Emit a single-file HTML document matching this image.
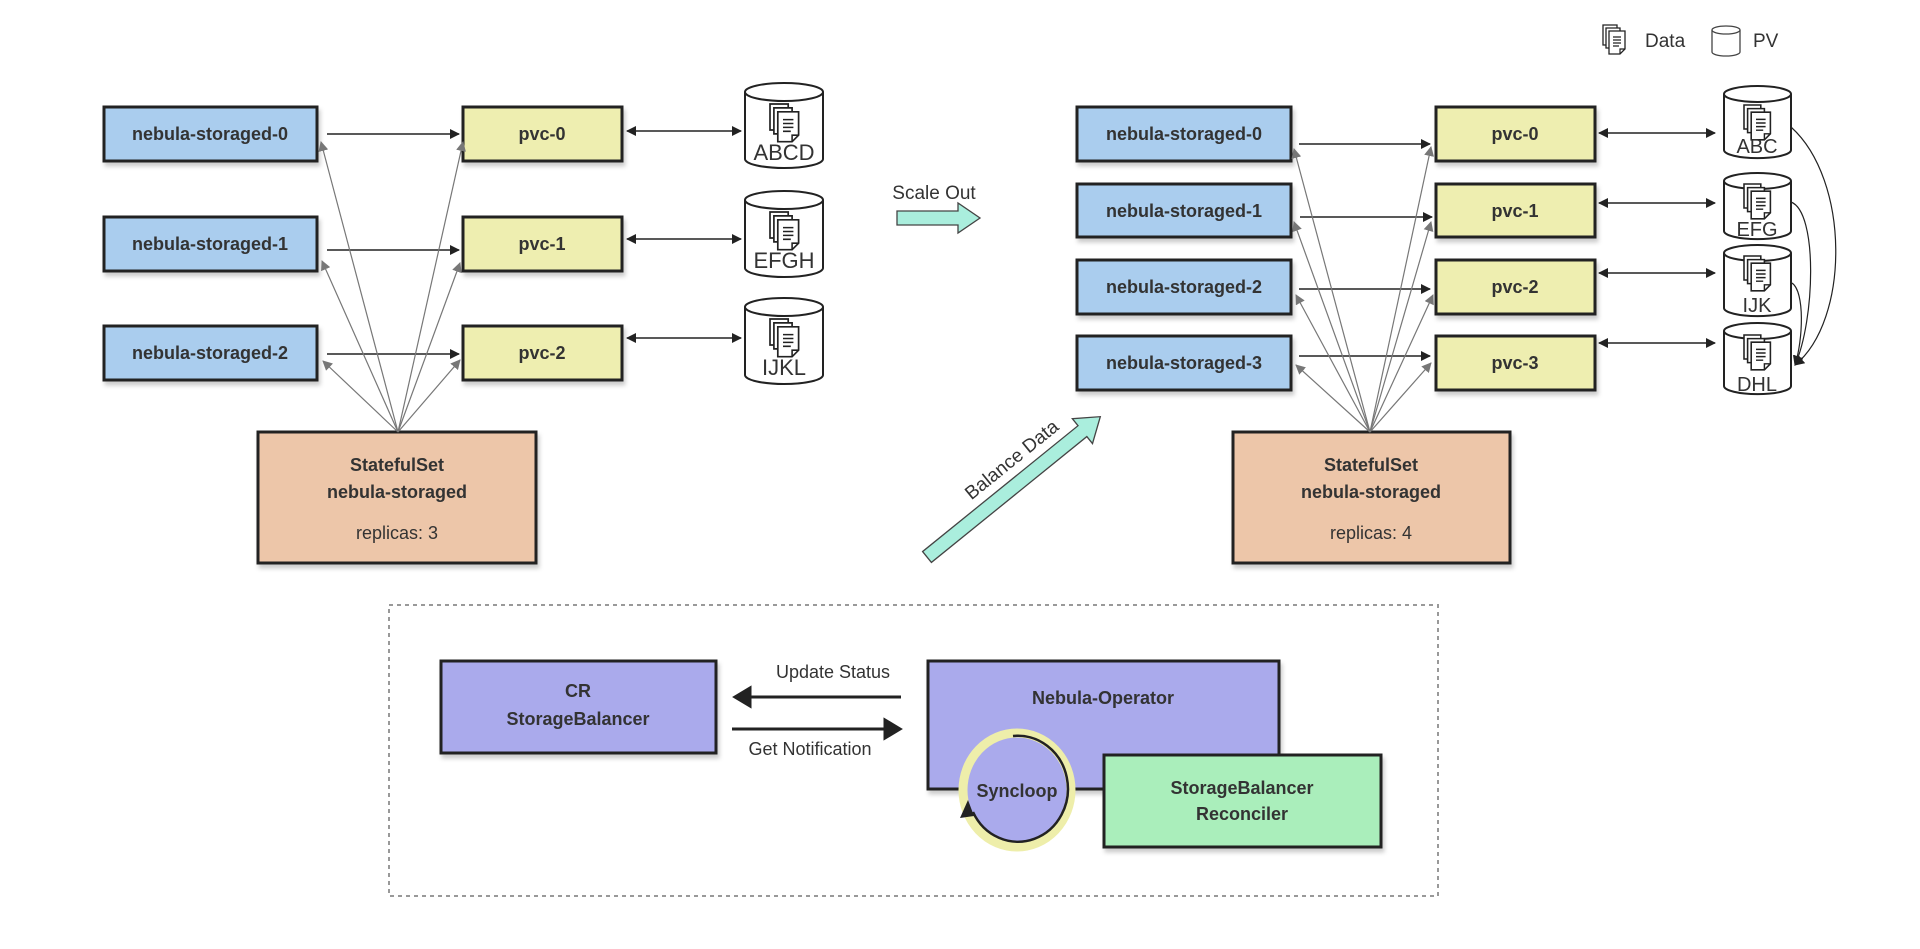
<!DOCTYPE html>
<html><head><meta charset="utf-8"><style>
html,body{margin:0;padding:0;background:#fff;}
svg{display:block;font-family:"Liberation Sans",Arial,sans-serif;}
.b{font-weight:bold;font-size:18px;fill:#333;}
.n{font-size:18px;fill:#333;}
</style></head><body>
<svg width="1920" height="949" viewBox="0 0 1920 949" xmlns="http://www.w3.org/2000/svg">
<defs>
<marker id="ah" markerWidth="10" markerHeight="10" refX="9" refY="5" orient="auto" markerUnits="userSpaceOnUse"><path d="M0,0 L10,5 L0,10 z" fill="#222"/></marker>
<marker id="as" markerWidth="10" markerHeight="10" refX="1" refY="5" orient="auto" markerUnits="userSpaceOnUse"><path d="M10,0 L0,5 L10,10 z" fill="#222"/></marker>
<marker id="ag" markerWidth="10" markerHeight="10" refX="9" refY="5" orient="auto" markerUnits="userSpaceOnUse"><path d="M0,0 L10,5 L0,10 z" fill="#777"/></marker>
<filter id="sh" x="-5%" y="-5%" width="115%" height="125%"><feDropShadow dx="2" dy="4" stdDeviation="2" flood-color="#000" flood-opacity="0.2"/></filter>
<g id="doc">
<path d="M0,0 h14 v20 h-14 z" fill="#fff" stroke="#222" stroke-width="1.3"/>
<path d="M3,3 h14 v20 h-14 z" fill="#fff" stroke="#222" stroke-width="1.3"/>
<path d="M6,6 h16 v18 l-5,5 h-11 z" fill="#fff" stroke="#222" stroke-width="1.3"/>
<path d="M17,29 v-5 h5" fill="none" stroke="#222" stroke-width="1.2"/>
<path d="M10,12 h8 M10,15 h8 M10,18 h8 M10,21 h6" stroke="#222" stroke-width="1.2"/>
</g>
</defs>

<!-- legend -->
<use href="#doc" x="1603" y="25"/>
<text x="1645" y="47" class="n" style="font-size:19px">Data</text>
<path d="M1712,30 v22 a14,4 0 0 0 28,0 v-22" fill="#fff" stroke="#444" stroke-width="1.3"/>
<ellipse cx="1726" cy="30" rx="14" ry="4" fill="#fff" stroke="#444" stroke-width="1.3"/>
<text x="1753" y="47" class="n" style="font-size:19px">PV</text>

<!-- LEFT -->
<g filter="url(#sh)" stroke="#222" stroke-width="3">
<rect x="104" y="107" width="213" height="54" fill="#aacdee"/>
<rect x="104" y="217" width="213" height="54" fill="#aacdee"/>
<rect x="104" y="326" width="213" height="54" fill="#aacdee"/>
<rect x="463" y="107" width="159" height="54" fill="#eeeeb0"/>
<rect x="463" y="217" width="159" height="54" fill="#eeeeb0"/>
<rect x="463" y="326" width="159" height="54" fill="#eeeeb0"/>
<rect x="258" y="432" width="278" height="131" fill="#edc6a9"/>
</g>
<g text-anchor="middle" class="b">
<text x="210" y="140">nebula-storaged-0</text>
<text x="210" y="250">nebula-storaged-1</text>
<text x="210" y="359">nebula-storaged-2</text>
<text x="542" y="140">pvc-0</text>
<text x="542" y="250">pvc-1</text>
<text x="542" y="359">pvc-2</text>
<text x="397" y="471">StatefulSet</text>
<text x="397" y="498">nebula-storaged</text>
<text x="397" y="539" class="n" style="font-weight:normal">replicas: 3</text>
</g>
<g stroke="#222" stroke-width="1.5">
<line x1="327" y1="134" x2="459" y2="134" marker-end="url(#ah)"/>
<line x1="327" y1="250" x2="459" y2="250" marker-end="url(#ah)"/>
<line x1="327" y1="354" x2="459" y2="354" marker-end="url(#ah)"/>
<line x1="627" y1="131" x2="741" y2="131" marker-end="url(#ah)" marker-start="url(#as)"/>
<line x1="627" y1="239" x2="741" y2="239" marker-end="url(#ah)" marker-start="url(#as)"/>
<line x1="627" y1="338" x2="741" y2="338" marker-end="url(#ah)" marker-start="url(#as)"/>
</g>
<g stroke="#777" stroke-width="1.2" fill="none">
<line x1="398" y1="432" x2="321" y2="142" marker-end="url(#ag)"/>
<line x1="398" y1="432" x2="322" y2="261" marker-end="url(#ag)"/>
<line x1="398" y1="432" x2="323" y2="361" marker-end="url(#ag)"/>
<line x1="398" y1="432" x2="463" y2="142" marker-end="url(#ag)"/>
<line x1="398" y1="432" x2="460" y2="263" marker-end="url(#ag)"/>
<line x1="398" y1="432" x2="460" y2="360" marker-end="url(#ag)"/>
</g>
<!-- left cylinders -->
<g stroke="#222" stroke-width="2" fill="#fff">
<path d="M745,92 v67 a39,9 0 0 0 78,0 v-67"/><ellipse cx="784" cy="92" rx="39" ry="9"/>
<path d="M745,200 v68 a39,9 0 0 0 78,0 v-68"/><ellipse cx="784" cy="200" rx="39" ry="9"/>
<path d="M745,307 v68 a39,9 0 0 0 78,0 v-68"/><ellipse cx="784" cy="307" rx="39" ry="9"/>
</g>
<use href="#doc" transform="translate(770,104) scale(1.3)"/><use href="#doc" transform="translate(770,212) scale(1.3)"/><use href="#doc" transform="translate(770,319) scale(1.3)"/>
<g text-anchor="middle" class="n" style="font-size:22px">
<text x="784" y="160">ABCD</text><text x="784" y="268">EFGH</text><text x="784" y="375">IJKL</text>
</g>

<!-- middle -->
<text x="934" y="199" text-anchor="middle" class="n" style="font-size:19px">Scale Out</text>
<path d="M897,211 h61 v-8 l22,15 l-22,15 v-8 h-61 z" fill="#aaeedd" stroke="#444" stroke-width="1.3"/>
<g transform="translate(927,557) rotate(-39)">
<path d="M0,-7 h200 v-9 l23,16 l-23,16 v-9 h-200 z" fill="#aaeedd" stroke="#444" stroke-width="1.3"/>
<text x="70" y="-16" class="n" style="font-size:19px">Balance Data</text>
</g>

<!-- RIGHT -->
<g filter="url(#sh)" stroke="#222" stroke-width="3">
<rect x="1077" y="107" width="214" height="54" fill="#aacdee"/>
<rect x="1077" y="184" width="214" height="53" fill="#aacdee"/>
<rect x="1077" y="260" width="214" height="54" fill="#aacdee"/>
<rect x="1077" y="336" width="214" height="54" fill="#aacdee"/>
<rect x="1436" y="107" width="159" height="54" fill="#eeeeb0"/>
<rect x="1436" y="184" width="159" height="53" fill="#eeeeb0"/>
<rect x="1436" y="260" width="159" height="54" fill="#eeeeb0"/>
<rect x="1436" y="336" width="159" height="54" fill="#eeeeb0"/>
<rect x="1233" y="432" width="277" height="131" fill="#edc6a9"/>
</g>
<g text-anchor="middle" class="b">
<text x="1184" y="140">nebula-storaged-0</text>
<text x="1184" y="217">nebula-storaged-1</text>
<text x="1184" y="293">nebula-storaged-2</text>
<text x="1184" y="369">nebula-storaged-3</text>
<text x="1515" y="140">pvc-0</text>
<text x="1515" y="217">pvc-1</text>
<text x="1515" y="293">pvc-2</text>
<text x="1515" y="369">pvc-3</text>
<text x="1371" y="471">StatefulSet</text>
<text x="1371" y="498">nebula-storaged</text>
<text x="1371" y="539" class="n" style="font-weight:normal">replicas: 4</text>
</g>
<g stroke="#222" stroke-width="1.5">
<line x1="1299" y1="144" x2="1430" y2="144" marker-end="url(#ah)"/>
<line x1="1300" y1="217" x2="1432" y2="217" marker-end="url(#ah)"/>
<line x1="1299" y1="289" x2="1430" y2="289" marker-end="url(#ah)"/>
<line x1="1299" y1="356" x2="1430" y2="356" marker-end="url(#ah)"/>
<line x1="1599" y1="133" x2="1715" y2="133" marker-end="url(#ah)" marker-start="url(#as)"/>
<line x1="1599" y1="203" x2="1715" y2="203" marker-end="url(#ah)" marker-start="url(#as)"/>
<line x1="1599" y1="273" x2="1715" y2="273" marker-end="url(#ah)" marker-start="url(#as)"/>
<line x1="1599" y1="343" x2="1715" y2="343" marker-end="url(#ah)" marker-start="url(#as)"/>
</g>
<g stroke="#777" stroke-width="1.2" fill="none">
<line x1="1370" y1="432" x2="1294" y2="149" marker-end="url(#ag)"/>
<line x1="1370" y1="432" x2="1294" y2="222" marker-end="url(#ag)"/>
<line x1="1370" y1="432" x2="1296" y2="295" marker-end="url(#ag)"/>
<line x1="1370" y1="432" x2="1296" y2="365" marker-end="url(#ag)"/>
<line x1="1370" y1="432" x2="1431" y2="147" marker-end="url(#ag)"/>
<line x1="1370" y1="432" x2="1431" y2="222" marker-end="url(#ag)"/>
<line x1="1370" y1="432" x2="1433" y2="295" marker-end="url(#ag)"/>
<line x1="1370" y1="432" x2="1431" y2="363" marker-end="url(#ag)"/>
</g>
<g stroke="#222" stroke-width="2" fill="#fff">
<path d="M1724,94 v56 a33,8 0 0 0 67,0 v-56"/><ellipse cx="1757.5" cy="94" rx="33.5" ry="8"/>
<path d="M1724,181 v50 a33,8 0 0 0 67,0 v-50"/><ellipse cx="1757.5" cy="181" rx="33.5" ry="8"/>
<path d="M1724,253 v55 a33,8 0 0 0 67,0 v-55"/><ellipse cx="1757.5" cy="253" rx="33.5" ry="8"/>
<path d="M1724,331 v55 a33,8 0 0 0 67,0 v-55"/><ellipse cx="1757.5" cy="331" rx="33.5" ry="8"/>
</g>
<use href="#doc" transform="translate(1744,105) scale(1.2)"/><use href="#doc" transform="translate(1744,184) scale(1.2)"/><use href="#doc" transform="translate(1744,256) scale(1.2)"/><use href="#doc" transform="translate(1744,335) scale(1.2)"/>
<g text-anchor="middle" class="n" style="font-size:20px">
<text x="1757" y="153">ABC</text><text x="1757" y="236">EFG</text><text x="1757" y="312">IJK</text><text x="1757" y="391">DHL</text>
</g>
<g stroke="#222" stroke-width="1.2" fill="none">
<path d="M1791,127 C1850,180 1850,320 1795,365" marker-end="url(#ah)"/>
<path d="M1791,202 C1818,212 1815,320 1795,365" marker-end="url(#ah)"/>
<path d="M1792,283 C1805,292 1803,340 1795,365" marker-end="url(#ah)"/>
</g>

<!-- BOTTOM -->
<rect x="389" y="605" width="1049" height="291" fill="none" stroke="#999" stroke-width="2" stroke-dasharray="4,4"/>
<g filter="url(#sh)" stroke="#222" stroke-width="3">
<rect x="441" y="661" width="275" height="92" fill="#aaaaec"/>
<rect x="928" y="661" width="351" height="128" fill="#aaaaec"/>
</g>
<g text-anchor="middle" class="b">
<text x="578" y="697">CR</text>
<text x="578" y="725">StorageBalancer</text>
<text x="1103" y="704">Nebula-Operator</text>
</g>
<text x="833" y="678" text-anchor="middle" class="n">Update Status</text>
<text x="810" y="755" text-anchor="middle" class="n">Get Notification</text>
<g stroke="#222" stroke-width="3" fill="#222">
<line x1="901" y1="697" x2="748" y2="697"/><path d="M735,697 l15,-9 v18 z"/>
<line x1="732" y1="729" x2="887" y2="729"/><path d="M900,729 l-15,-9 v18 z"/>
</g>
<rect x="1104" y="755" width="277" height="92" fill="#aaeebb" stroke="#222" stroke-width="3" filter="url(#sh)"/>
<g text-anchor="middle" class="b">
<text x="1242" y="794">StorageBalancer</text>
<text x="1242" y="820">Reconciler</text>
</g>
<ellipse cx="1017" cy="790" rx="54" ry="57" fill="#aaaaec" stroke="#eeeeaa" stroke-width="9"/>
<path d="M1013,736 A50,53 0 1 1 973,812" fill="none" stroke="#222" stroke-width="2.5"/>
<path d="M968,800 l-8,18 l14,-2 z" fill="#222"/>
<text x="1017" y="797" text-anchor="middle" class="b">Syncloop</text>
</svg>
</body></html>
